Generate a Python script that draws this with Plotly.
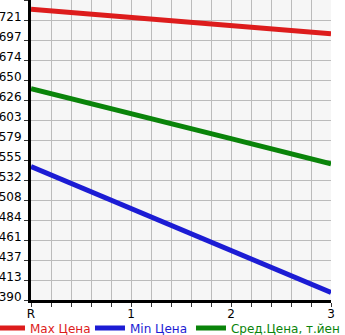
import plotly.graph_objects as go

categories = ["R", "1", "2", "3"]
max_price = [734, 724, 714, 705]
min_price = [548, 498, 448, 399]
avg_price = [640, 611, 581, 551]

y_min, y_max = 390, 745
n_steps = 15
y_tickvals = [y_min + i * (y_max - y_min) / n_steps for i in range(n_steps + 1)]
y_ticktext = [str(int(v)) for v in y_tickvals]
y_ticktext[-1] = ""

xs = list(range(len(categories)))

fig = go.Figure()
series = [
    ("Max Цена", max_price, "#dd1c1c", "legend"),
    ("Min Цена", min_price, "#1c1cd4", "legend"),
    ("Сред.Цена, т.йен", avg_price, "#0a840a", "legend2"),
]
for name, vals, color, lg in series:
    fig.add_trace(go.Scatter(
        x=xs, y=vals, mode="lines",
        line=dict(color=color, width=5),
        name=f'<span style="color:{color}">{name}</span>',
        legend=lg,
    ))

legend_common = dict(
    orientation="h", xanchor="left", y=-0.093, yanchor="middle",
    font=dict(size=12), itemwidth=30, tracegroupgap=0,
    bgcolor="rgba(0,0,0,0)",
)

fig.update_layout(
    width=345, height=335,
    margin=dict(l=31, r=14, t=0, b=35, autoexpand=False),
    plot_bgcolor="#f6f6f6",
    paper_bgcolor="white",
    font=dict(family="DejaVu Sans", size=12, color="black"),
    showlegend=True,
    legend=dict(x=-0.1367, entrywidth=55, entrywidthmode="pixels", **legend_common),
    legend2=dict(x=0.5333, **legend_common),
)
fig.update_xaxes(
    range=[0, 3], tickvals=xs, ticktext=categories,
    showgrid=True, gridcolor="#bbbbbb", gridwidth=1,
    minor=dict(dtick=0.2, showgrid=True, gridcolor="#bbbbbb", ticks="outside", ticklen=4, tickcolor="#333333"),
    showline=True, linecolor="black", linewidth=3,
    ticks="outside", ticklen=4, tickcolor="#333333",
    ticklabelstandoff=-3,
    zeroline=False, fixedrange=True,
)
fig.update_yaxes(
    range=[y_min, y_max], tickvals=y_tickvals, ticktext=y_ticktext,
    showgrid=True, gridcolor="#bbbbbb", gridwidth=1,
    showline=True, linecolor="black", linewidth=3,
    ticks="outside", ticklen=4, tickcolor="#333333",
    ticklabelshift=-3,
    zeroline=False, fixedrange=True,
)

fig.write_html("out.html", config={"displayModeBar": False})
